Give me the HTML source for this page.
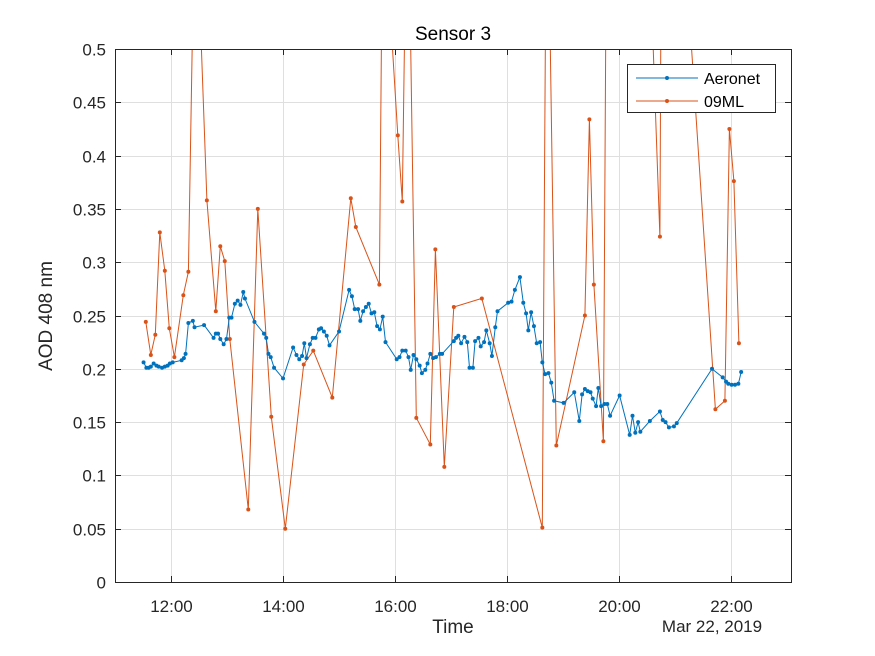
<!DOCTYPE html>
<html><head><meta charset="utf-8"><style>
body{margin:0;background:#fff;}
svg{display:block;font-family:"Liberation Sans",Arial,sans-serif;}
</style></head><body>
<svg id="chart" width="875" height="656" viewBox="0 0 875 656">
<rect x="0" y="0" width="875" height="656" fill="#fff"/>
<g id="grid"></g>
<g id="plot"></g>
<rect x="115.5" y="49.5" width="676" height="533" fill="none" stroke="#262626" stroke-width="1"/>
<g id="ticks"></g>
<text x="453" y="40" font-size="19" text-anchor="middle" fill="#000">Sensor 3</text>
<text x="453" y="633" font-size="19" text-anchor="middle" fill="#262626">Time</text>
<text x="712" y="632" font-size="17" text-anchor="middle" fill="#262626">Mar 22, 2019</text>
<text x="0" y="0" font-size="19" text-anchor="middle" fill="#262626" transform="translate(52,316) rotate(-90)">AOD 408 nm</text>
<g>
<rect x="627.5" y="64.5" width="148" height="48" fill="#fff" stroke="#262626"/>
<line x1="636" y1="78" x2="698" y2="78" stroke="#0072BD"/>
<circle cx="667" cy="78" r="2" fill="#0072BD"/>
<text x="704" y="84" font-size="16" fill="#000">Aeronet</text>
<line x1="636" y1="101" x2="698" y2="101" stroke="#D95319"/>
<circle cx="667" cy="101" r="2" fill="#D95319"/>
<text x="704" y="107" font-size="16" fill="#000">09ML</text>
</g>
</svg>
<script>
const xTickHours=[12,14,16,18,20,22];
const xTickLabels=["12:00","14:00","16:00","18:00","20:00","22:00"];
const yTicks=[0,0.05,0.1,0.15,0.2,0.25,0.3,0.35,0.4,0.45,0.5];
const yTickLabels=["0","0.05","0.1","0.15","0.2","0.25","0.3","0.35","0.4","0.45","0.5"];
const aeronetTime=[11.51,11.56,11.60,11.64,11.69,11.74,11.78,11.84,11.89,11.94,11.98,12.03,12.19,12.23,12.26,12.31,12.39,12.42,12.59,12.76,12.80,12.84,12.88,12.94,12.99,13.04,13.08,13.14,13.19,13.24,13.29,13.32,13.49,13.66,13.70,13.74,13.78,13.84,14.00,14.18,14.24,14.29,14.34,14.38,14.42,14.48,14.53,14.58,14.64,14.68,14.73,14.78,14.83,15.00,15.18,15.23,15.28,15.34,15.38,15.43,15.48,15.53,15.58,15.63,15.68,15.73,15.78,15.83,16.03,16.08,16.13,16.19,16.24,16.28,16.33,16.38,16.44,16.48,16.54,16.58,16.63,16.68,16.73,16.80,16.84,17.05,17.09,17.13,17.18,17.24,17.29,17.33,17.39,17.43,17.49,17.53,17.59,17.63,17.69,17.73,17.79,17.83,18.02,18.08,18.14,18.23,18.29,18.34,18.38,18.43,18.48,18.53,18.59,18.63,18.68,18.74,18.79,18.84,19.01,19.20,19.29,19.34,19.39,19.44,19.49,19.53,19.59,19.63,19.68,19.74,19.79,19.84,20.01,20.19,20.24,20.29,20.34,20.38,20.55,20.73,20.78,20.83,20.89,20.98,21.03,21.66,21.85,21.91,21.95,22.01,22.07,22.13,22.18];
const aeronetAOD=[.206,.201,.201,.202,.205,.203,.202,.201,.202,.203,.205,.206,.208,.210,.214,.243,.245,.239,.241,.229,.233,.233,.228,.223,.228,.248,.248,.261,.264,.260,.272,.266,.244,.233,.229,.214,.211,.201,.191,.220,.213,.209,.212,.224,.210,.223,.229,.229,.237,.238,.235,.231,.222,.235,.274,.268,.256,.256,.245,.254,.258,.261,.252,.253,.240,.237,.249,.225,.209,.211,.217,.217,.211,.199,.213,.209,.203,.196,.199,.205,.214,.210,.211,.214,.214,.226,.229,.231,.224,.230,.225,.201,.201,.226,.229,.221,.225,.236,.224,.212,.239,.254,.262,.263,.274,.286,.262,.252,.236,.253,.240,.224,.225,.206,.195,.196,.187,.170,.168,.178,.151,.176,.181,.179,.178,.172,.165,.182,.165,.167,.167,.156,.175,.138,.156,.140,.150,.141,.151,.160,.152,.150,.145,.146,.149,.200,.192,.188,.186,.185,.185,.186,.197];
const ml09Time=[11.55,11.64,11.72,11.80,11.89,11.97,12.06,12.22,12.31,12.43,12.64,12.80,12.88,12.96,13.05,13.38,13.55,13.79,14.04,14.37,14.54,14.88,15.21,15.30,15.72,15.78,16.05,16.13,16.22,16.38,16.63,16.72,16.88,17.05,17.55,18.63,18.71,18.88,19.39,19.47,19.55,19.72,19.88,20.73,20.78,21.72,21.89,21.97,22.05,22.14];
const ml09AOD=[.244,.213,.232,.328,.292,.238,.211,.269,.291,.664,.358,.254,.315,.301,.228,.068,.350,.155,.050,.204,.217,.173,.360,.333,.279,.650,.419,.357,.707,.154,.129,.312,.108,.258,.266,.051,.720,.128,.250,.434,.279,.132,1.58,.324,.910,.162,.170,.425,.376,.224];

const NS="http://www.w3.org/2000/svg";
const X0=115,X1=791,Y0=582,Y1=49,H0=11.0,H1=23.07;
function xs(h){return X0+(h-H0)/(H1-H0)*(X1-X0);}
function ys(v){return Y0-(v/0.5)*(Y0-Y1);}
function mk(tag,attrs,parent){const e=document.createElementNS(NS,tag);for(const k in attrs)e.setAttribute(k,attrs[k]);parent.appendChild(e);return e;}
const grid=document.getElementById('grid'),ticks=document.getElementById('ticks'),plot=document.getElementById('plot');
xTickHours.forEach((h,i)=>{const x=Math.round(xs(h))+0.5;
 const g=mk('line',{x1:x,y1:Y1,x2:x,y2:Y0,stroke:'#dfdfdf'},grid);
 
 
 const t=mk('line',{x1:x,y1:Y0,x2:x,y2:Y0-6,stroke:'#262626'},ticks);
 
 
 const t2=mk('line',{x1:x,y1:Y1,x2:x,y2:Y1+6,stroke:'#262626'},ticks);
 
 
 const l=mk('text',{x:x,y:612,'font-size':17,'text-anchor':'middle',fill:'#262626'},ticks);
 l.textContent=xTickLabels[i];
 
 
});
yTicks.forEach((v,i)=>{const y=Math.round(ys(v))+0.5;
 const g=mk('line',{x1:X0,y1:y,x2:X1,y2:y,stroke:'#dfdfdf'},grid);
 
 
 const t=mk('line',{x1:X0,y1:y,x2:X0+6,y2:y,stroke:'#262626'},ticks);
 
 
 const t2=mk('line',{x1:X1,y1:y,x2:X1-6,y2:y,stroke:'#262626'},ticks);
 
 
 const l=mk('text',{x:106,y:y+6,'font-size':17,'text-anchor':'end',fill:'#262626'},ticks);
 l.textContent=yTickLabels[i];
 
 
});
const defs=mk('defs',{},plot);
const cp=mk('clipPath',{id:'clip'},defs);
mk('rect',{x:X0,y:Y1,width:X1-X0,height:Y0-Y1},cp);
function series(t,v,color,name){
 const g=mk('g',{'clip-path':'url(#clip)'},plot);
 
 
 const pts=t.map((h,i)=>xs(h).toFixed(1)+','+ys(v[i]).toFixed(1)).join(' ');
 const pl=mk('polyline',{points:pts,fill:'none',stroke:color,'stroke-width':1},g);
 
 
 t.forEach((h,i)=>{const c=mk('circle',{cx:xs(h),cy:ys(v[i]),r:2,fill:color},g);
  
  });
}
series(ml09Time,ml09AOD,'#D95319','ml09');
series(aeronetTime,aeronetAOD,'#0072BD','aeronet');
</script>
</body></html>
